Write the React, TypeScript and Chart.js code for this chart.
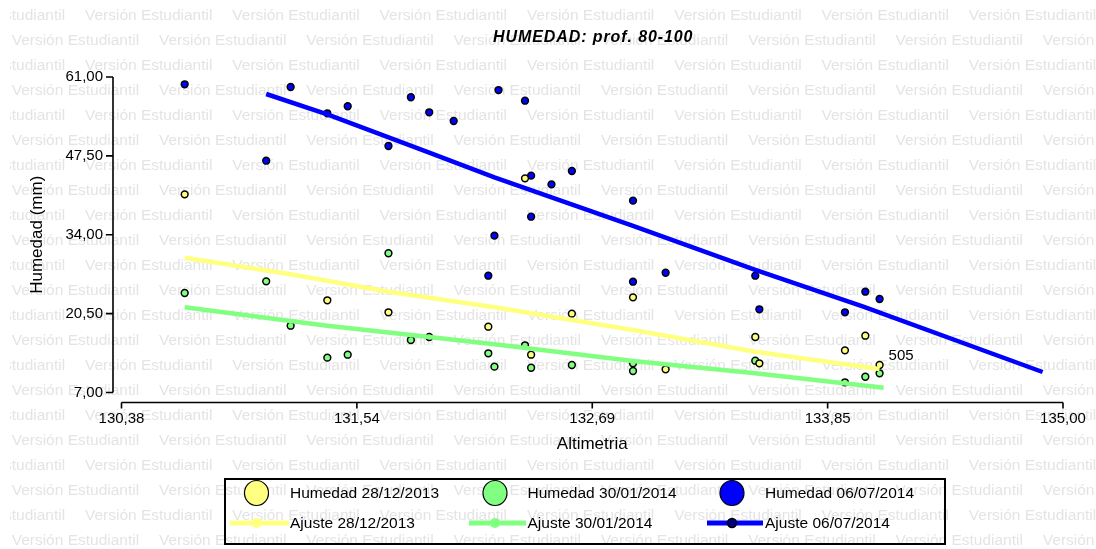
import { useEffect, useRef } from 'react';
import { Chart, registerables } from 'chart.js';

Chart.register(...registerables);

// ---- Data ----
const xTickValues = [130.38, 131.535, 132.69, 133.845, 135.0];
const xTickLabels = ['130,38', '131,54', '132,69', '133,85', '135,00'];
const yTickValues = [7, 20.5, 34, 47.5, 61];
const yTickLabels = ['7,00', '20,50', '34,00', '47,50', '61,00'];

const alt28 = [130.69, 131.39, 131.69, 132.18, 132.36, 132.39, 132.59, 132.89, 133.05, 133.49, 133.51, 133.93, 134.03, 134.10];
const hum28 = [40.92, 22.78, 20.73, 18.26, 43.66, 13.47, 20.49, 23.29, 10.97, 16.5, 12.0, 14.22, 16.72, 11.71];

const alt30 = [130.69, 131.09, 131.21, 131.39, 131.49, 131.69, 131.80, 131.89, 132.18, 132.21, 132.36, 132.39, 132.59, 132.89, 132.89, 133.49, 133.93, 134.03, 134.10];
const hum30 = [24.03, 26.03, 18.43, 12.96, 13.47, 30.83, 15.99, 16.5, 13.71, 11.42, 15.08, 11.24, 11.71, 12.0, 10.68, 12.44, 8.75, 9.7, 10.29];

const alt06 = [130.69, 131.21, 131.09, 131.39, 131.49, 131.69, 131.80, 131.89, 132.01, 132.23, 132.36, 132.21, 132.18, 132.39, 132.49, 132.59, 132.39, 132.89, 132.89, 133.05, 133.49, 133.51, 133.93, 134.03, 134.10];
const hum06 = [59.75, 59.29, 46.67, 54.79, 55.99, 49.19, 57.53, 54.96, 53.47, 58.77, 56.94, 33.84, 26.99, 44.11, 42.63, 44.91, 37.09, 39.83, 25.96, 27.5, 26.99, 21.24, 20.73, 24.25, 23.0];

const fitAlt28 = [130.69, 131.21, 131.69, 132.21, 132.89, 133.49, 134.10];
const fit28 = [30.07, 27.23, 24.25, 21.58, 17.7, 13.98, 11.02];
const fitAlt30 = [130.69, 131.39, 131.89, 132.21, 132.89, 133.49, 134.12];
const fit30 = [21.58, 18.43, 16.5, 15.25, 12.39, 10.29, 7.82];
const fitAlt06 = [131.09, 131.39, 131.89, 132.21, 132.89, 133.49, 134.02, 134.90];
const fit06 = [58.09, 54.62, 48.04, 43.83, 35.5, 27.97, 21.69, 10.51];

const pointLabel = { x: 134.10, y: 11.71, text: '505' };

const seriesNames = ['Humedad 28/12/2013', 'Humedad 30/01/2014', 'Humedad 06/07/2014'];
const fitNames = ['Ajuste 28/12/2013', 'Ajuste 30/01/2014', 'Ajuste 06/07/2014'];
const titleText = 'HUMEDAD: prof. 80-100';
const watermarkText = 'Versión Estudiantil';

// ---- Styles ----
const YELLOW = '#ffff80';
const GREEN = '#80ff80';
const BLUE = '#0000ff';
const FONT = '"Liberation Sans", Arial, sans-serif';

const zip = (xs: number[], ys: number[]) => xs.map((x, i) => ({ x, y: ys[i] }));

const decorPlugin = {
  id: 'decor',
  beforeDraw(chart: any) {
    const ctx = chart.ctx as CanvasRenderingContext2D;
    const W = chart.width;
    const H = chart.height;
    ctx.save();
    ctx.fillStyle = '#ffffff';
    ctx.fillRect(0, 0, W, H);
    ctx.beginPath();
    ctx.rect(10, 0, W - 10, H);
    ctx.clip();
    ctx.font = `15px ${FONT}`;
    const w = ctx.measureText(watermarkText).width;
    const size = (15 * 127.5) / w;
    ctx.font = `${size}px ${FONT}`;
    ctx.fillStyle = '#e4e4e4';
    ctx.textBaseline = 'middle';
    ctx.textAlign = 'left';
    const period = 147.3;
    for (let r = 0; r < 23; r++) {
      const y = 15.7 + 25 * r;
      const start = r % 2 === 0 ? 85 - period : 11.7;
      for (let x = start; x < W; x += period) {
        ctx.fillText(watermarkText, x, y);
      }
    }
    ctx.restore();
  },
  afterDatasetsDraw(chart: any) {
    const ctx = chart.ctx as CanvasRenderingContext2D;
    const xs = chart.scales.x;
    const ys = chart.scales.y;
    ctx.save();
    ctx.font = `15px ${FONT}`;
    ctx.fillStyle = '#000';
    ctx.textBaseline = 'middle';
    ctx.textAlign = 'left';
    ctx.fillText(pointLabel.text, xs.getPixelForValue(pointLabel.x) + 9, ys.getPixelForValue(pointLabel.y) - 9);
    ctx.restore();
  },
  afterDraw(chart: any) {
    const ctx = chart.ctx as CanvasRenderingContext2D;
    const xs = chart.scales.x;
    const ys = chart.scales.y;
    const area = chart.chartArea;
    ctx.save();
    ctx.strokeStyle = '#000';
    ctx.lineWidth = 1.6;
    // y axis
    const ax = area.left - 8.5;
    ctx.beginPath();
    ctx.moveTo(ax, ys.getPixelForValue(yTickValues[yTickValues.length - 1]));
    ctx.lineTo(ax, ys.getPixelForValue(yTickValues[0]));
    yTickValues.forEach((v) => {
      const p = ys.getPixelForValue(v);
      ctx.moveTo(ax - 7, p);
      ctx.lineTo(ax, p);
    });
    ctx.stroke();
    // x axis
    const ay = area.bottom + 10;
    ctx.beginPath();
    ctx.moveTo(xs.getPixelForValue(xTickValues[0]), ay);
    ctx.lineTo(xs.getPixelForValue(xTickValues[xTickValues.length - 1]), ay);
    xTickValues.forEach((v) => {
      const p = xs.getPixelForValue(v);
      ctx.moveTo(p, ay);
      ctx.lineTo(p, ay + 6);
    });
    ctx.stroke();

    // title
    ctx.fillStyle = '#000';
    ctx.font = `italic bold 16px ${FONT}`;
    (ctx as any).letterSpacing = '0.9px';
    ctx.textAlign = 'center';
    ctx.textBaseline = 'middle';
    ctx.fillText(titleText, (area.left + area.right) / 2 + 1, 37.5);
    (ctx as any).letterSpacing = '0px';

    // legend
    const L = 225, T = 479, R = 945, B = 544;
    ctx.lineWidth = 2;
    ctx.strokeRect(L, T, R - L, B - T);
    const circleX = [256.5, 495, 732];
    const textX = [290, 527.5, 765];
    const lineFrom = [230, 469, 707];
    const lineTo = [289, 526, 763];
    const fills = [YELLOW, GREEN, BLUE];
    const row1 = 493, row2 = 523;
    ctx.font = `15.5px ${FONT}`;
    ctx.textAlign = 'left';
    for (let i = 0; i < 3; i++) {
      ctx.beginPath();
      ctx.ellipse(circleX[i], row1, 12, 12.5, 0, 0, Math.PI * 2);
      ctx.fillStyle = fills[i];
      ctx.fill();
      ctx.lineWidth = 1.2;
      ctx.strokeStyle = '#000';
      ctx.stroke();
      ctx.fillStyle = '#000';
      ctx.fillText(seriesNames[i], textX[i], row1 + 1);

      ctx.beginPath();
      ctx.moveTo(lineFrom[i], row2);
      ctx.lineTo(lineTo[i], row2);
      ctx.strokeStyle = fills[i];
      ctx.lineWidth = 5;
      ctx.stroke();
      ctx.beginPath();
      ctx.arc(circleX[i], row2, i === 2 ? 4.5 : 5, 0, Math.PI * 2);
      ctx.fillStyle = i === 2 ? '#000080' : fills[i];
      ctx.fill();
      if (i === 2) {
        ctx.lineWidth = 1.5;
        ctx.strokeStyle = '#000';
        ctx.stroke();
      }
      ctx.fillStyle = '#000';
      ctx.fillText(fitNames[i], textX[i], row2 + 1);
    }
    ctx.restore();
  },
};

export default function App() {
  const ref = useRef<HTMLCanvasElement | null>(null);

  useEffect(() => {
    if (!ref.current) return;
    Chart.defaults.font.family = FONT;
    const lineDs = (label: string, data: any[], color: string) => ({
      label,
      data,
      showLine: true,
      borderColor: color,
      backgroundColor: color,
      borderWidth: 4.5,
      pointRadius: 0,
      pointHoverRadius: 0,
      tension: 0,
      fill: false,
    });
    const pointDs = (label: string, data: any[], color: string) => ({
      label,
      data,
      showLine: false,
      borderColor: '#000',
      backgroundColor: color,
      borderWidth: 1.5,
      pointRadius: 3.4,
      pointHoverRadius: 3.4,
    });
    const chart = new Chart(ref.current, {
      type: 'scatter',
      data: {
        datasets: [
          lineDs(fitNames[0], zip(fitAlt28, fit28), YELLOW),
          lineDs(fitNames[1], zip(fitAlt30, fit30), GREEN),
          lineDs(fitNames[2], zip(fitAlt06, fit06), BLUE),
          pointDs(seriesNames[0], zip(alt28, hum28), YELLOW),
          pointDs(seriesNames[1], zip(alt30, hum30), GREEN),
          pointDs(seriesNames[2], zip(alt06, hum06), BLUE),
        ] as any,
      },
      options: {
        responsive: false,
        animation: false,
        events: [],
        layout: { padding: { left: 0, right: 33, top: 77, bottom: 94.5 } },
        plugins: {
          legend: { display: false },
          title: { display: false },
          tooltip: { enabled: false },
        },
        scales: {
          x: {
            type: 'linear',
            min: 130.38,
            max: 135,
            grid: { display: false, drawTicks: false },
            border: { display: false },
            afterBuildTicks: (s: any) => {
              s.ticks = xTickValues.map((v) => ({ value: v }));
            },
            afterFit: (s: any) => {
              s.height = 62;
              s.paddingLeft = 0;
              s.paddingRight = 0;
            },
            ticks: {
              autoSkip: false,
              maxRotation: 0,
              minRotation: 0,
              padding: 17,
              color: '#000',
              font: { size: 15 },
              callback: (_v: any, i: number) => xTickLabels[i],
            },
            title: {
              display: true,
              text: 'Altimetria',
              color: '#000',
              font: { size: 17 },
              padding: { top: 0, bottom: 0 },
            },
          },
          y: {
            type: 'linear',
            min: 7,
            max: 61,
            grid: { display: false, drawTicks: false },
            border: { display: false },
            afterBuildTicks: (s: any) => {
              s.ticks = yTickValues.map((v) => ({ value: v }));
            },
            afterFit: (s: any) => {
              s.width = 121.5;
            },
            ticks: {
              autoSkip: false,
              padding: 18.5,
              color: '#000',
              font: { size: 15 },
              callback: (_v: any, i: number) => yTickLabels[i],
            },
            title: {
              display: true,
              text: 'Humedad (mm)',
              color: '#000',
              font: { size: 17 },
              padding: { top: 27, bottom: 0 },
            },
          },
        },
      } as any,
      plugins: [decorPlugin as any],
    });
    return () => chart.destroy();
  }, []);

  return (
    <div style={{ position: 'fixed', left: 0, top: 0, width: 1096, height: 549, background: '#fff' }}>
      <canvas ref={ref} width={1096} height={549} style={{ display: 'block', width: 1096, height: 549 }} />
    </div>
  );
}
